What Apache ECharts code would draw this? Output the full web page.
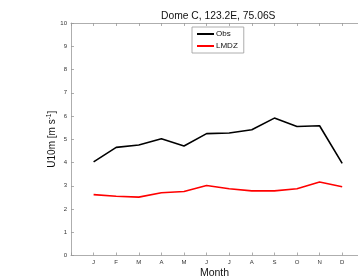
<!DOCTYPE html>
<html><head><meta charset="utf-8">
<script src="https://cdn.jsdelivr.net/npm/echarts@6/dist/echarts.min.js"></script>
<style>html,body{margin:0;padding:0;background:#fff}#c{width:358px;height:277px}</style>
</head><body><div id="c"></div>
<script>
const months = ['J','F','M','A','M','J','J','A','S','O','N','D'];
const obs  = [4.03, 4.65, 4.75, 5.02, 4.71, 5.24, 5.27, 5.41, 5.91, 5.55, 5.58, 3.96];
const lmdz = [2.62, 2.55, 2.51, 2.70, 2.75, 3.01, 2.87, 2.78, 2.78, 2.87, 3.16, 2.96];
const yTicks = [0,1,2,3,4,5,6,7,8,9,10];

const chart = echarts.init(document.getElementById('c'), null, {renderer:'canvas'});
const FF = 'Liberation Sans, Arial, sans-serif';
const tickLbl = {fontSize:6, color:'#333', fontFamily:FF};
const axCol = '#999';
const xLabelFmt = v => (Number.isInteger(v) && v>=1 && v<=12) ? months[v-1] : '';
chart.setOption({
  animation:false,
  title:{text:'Dome C, 123.2E, 75.06S', left:156, top:6,
    textStyle:{fontSize:10.3, fontWeight:'normal', color:'#111', fontFamily:FF}},
  legend:{orient:'vertical', left:192, top:27, padding:[3,6,3,5], itemGap:4, itemWidth:17, itemHeight:2,
    icon:'rect',
    borderColor:'#999', borderWidth:0.8, backgroundColor:'#fff',
    textStyle:{fontSize:8, color:'#111', padding:[0,0,0,-3], fontFamily:FF},
    data:['Obs','LMDZ']},
  grid:{left:71, top:23, right:0, height:232.5, containLabel:false, outerBoundsMode:'none'},
  xAxis:[{type:'value', min:0, max:12.7, interval:1, position:'bottom',
      axisLine:{onZero:false, lineStyle:{color:axCol, width:0.8}},
      axisTick:{inside:true, length:3, lineStyle:{color:axCol, width:0.8}},
      splitLine:{show:false},
      axisLabel:{...tickLbl, margin:4, formatter:xLabelFmt},
      name:'Month', nameLocation:'middle', nameGap:12, nameMoveOverlap:false,
      nameTextStyle:{fontSize:10.5, color:'#111', fontFamily:FF}},
    {type:'value', min:0, max:12.7, interval:1, position:'top',
      axisLine:{onZero:false, lineStyle:{color:axCol, width:0.8}},
      axisTick:{inside:true, length:3, lineStyle:{color:axCol, width:0.8}},
      splitLine:{show:false}, axisLabel:{show:false}}],
  yAxis:[{type:'value', min:0, max:10, interval:1, position:'left',
      axisLine:{show:true, onZero:false, lineStyle:{color:axCol, width:0.8}},
      axisTick:{show:true, inside:true, length:3, lineStyle:{color:axCol, width:0.8}},
      splitLine:{show:false},
      axisLabel:{...tickLbl, margin:4, formatter:v => yTicks.includes(v) ? String(v) : ''},
      name:'U10m [m s{sup|-1}]', nameLocation:'middle', nameGap:13, nameRotate:90, nameMoveOverlap:false,
      nameTextStyle:{fontSize:10, color:'#111', fontFamily:FF,
        rich:{sup:{fontSize:6.5, verticalAlign:'top', color:'#111', padding:[0,0,5,0]}}}}],
  series:[
    {name:'Obs', type:'line', xAxisIndex:0, yAxisIndex:0, symbol:'none',
      lineStyle:{color:'#000', width:1.6}, itemStyle:{color:'#000'},
      data: obs.map((v,i)=>[i+1,v])},
    {name:'LMDZ', type:'line', xAxisIndex:0, yAxisIndex:0, symbol:'none',
      lineStyle:{color:'#f00', width:1.6}, itemStyle:{color:'#f00'},
      data: lmdz.map((v,i)=>[i+1,v])}
  ]
});
</script></body></html>
